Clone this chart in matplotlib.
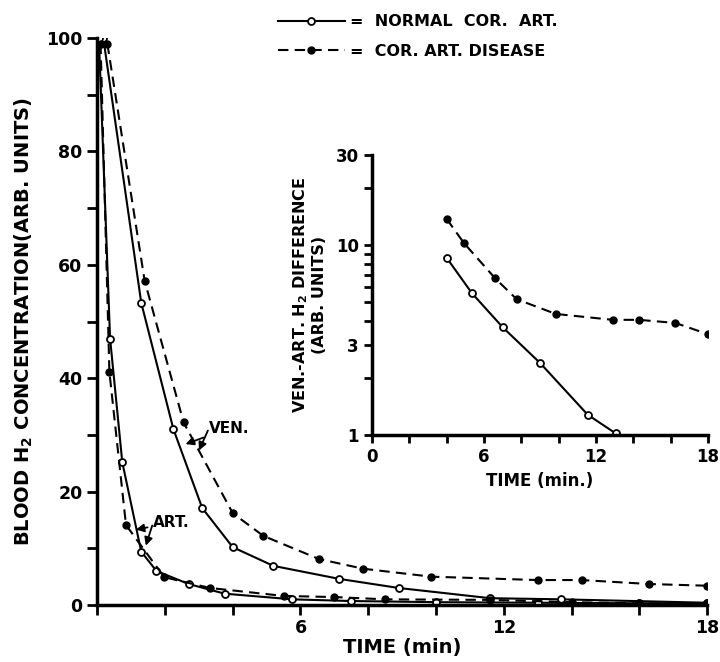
import matplotlib
matplotlib.use("Agg")
import matplotlib.pyplot as plt
from matplotlib.ticker import FixedLocator, NullFormatter, FixedFormatter

# --- data ---
# venous, normal coronary arteries
ven_norm_t = [0.18, 1.3, 2.25, 3.1, 4.0, 5.2, 7.15, 8.9, 11.6, 13.7, 18.0]
ven_norm_c = [100, 53.3, 31.0, 17.1, 10.2, 6.9, 4.6, 3.0, 1.2, 1.0, 0.4]
# venous, coronary artery disease
ven_dis_t = [0.3, 1.4, 2.55, 4.0, 4.9, 6.55, 7.85, 9.85, 13.0, 14.3, 16.3, 18.0]
ven_dis_c = [99, 57.2, 32.2, 16.2, 12.2, 8.1, 6.4, 5.0, 4.4, 4.4, 3.7, 3.4]
# arterial, normal
art_norm_t = [0.05, 0.38, 0.74, 1.3, 1.75, 2.7, 3.76, 5.75, 7.5, 10.0, 13.0, 16.0, 18.0]
art_norm_c = [100, 47.0, 25.2, 9.4, 6.0, 3.7, 2.0, 1.0, 0.7, 0.5, 0.4, 0.3, 0.3]
# arterial, disease
art_dis_t = [0.1, 0.36, 0.85, 1.98, 3.33, 5.5, 7.0, 8.5, 11.6, 14.0, 16.0, 18.0]
art_dis_c = [99, 41.1, 14.1, 4.9, 3.0, 1.6, 1.4, 1.0, 0.9, 0.5, 0.3, 0.2]

# inset: ven.-art. difference
diff_norm_t = [4.0, 5.35, 7.0, 9.0, 11.55, 13.05]
diff_norm_v = [8.6, 5.6, 3.7, 2.4, 1.28, 1.02]
diff_dis_t = [4.0, 4.92, 6.6, 7.75, 9.85, 12.9, 14.3, 16.25, 18.0]
diff_dis_v = [13.8, 10.3, 6.7, 5.2, 4.35, 4.05, 4.05, 3.9, 3.4]

plt.rcParams['font.family'] = 'DejaVu Sans'
plt.rcParams['font.weight'] = 'bold'

fig = plt.figure(figsize=(7.2, 6.62), dpi=100)
ax = fig.add_axes([0.135, 0.0861, 0.847, 0.8565])

solid = dict(color='black', linestyle='-', linewidth=1.5, marker='o',
             markersize=5, markerfacecolor='white', markeredgewidth=1.3)
dashed = dict(color='black', linestyle=(0, (5, 3)), linewidth=1.5, marker='o',
              markersize=5, markerfacecolor='black')

l1, = ax.plot(ven_norm_t, ven_norm_c, **solid)
l2, = ax.plot(ven_dis_t, ven_dis_c, **dashed)
ax.plot(art_norm_t, art_norm_c, **solid)
ax.plot(art_dis_t, art_dis_c, **dashed)

ax.set_xlim(0, 18)
ax.set_ylim(0, 100)
for s in ['top', 'right']:
    ax.spines[s].set_visible(False)
for s in ['left', 'bottom']:
    ax.spines[s].set_linewidth(2.5)
ax.set_xticks([6, 12, 18])
ax.set_xticks(range(0, 19, 2), minor=True)
ax.set_yticks(range(0, 101, 20))
ax.set_yticks(range(0, 101, 10), minor=True)
ax.tick_params(which='both', direction='out', width=2, length=7, labelsize=12.5)
ax.tick_params(axis='x', pad=3)
ax.set_xlabel('TIME (min)', fontsize=14, fontweight='bold', labelpad=1)
ax.set_ylabel('BLOOD H$_\\mathbf{2}$ CONCENTRATION(ARB. UNITS)', fontsize=14,
              fontweight='bold', labelpad=8)

arr = dict(arrowstyle='-|>', color='black', lw=1.3, mutation_scale=12)
ax.annotate('VEN.', xy=(2.53, 28.2), xytext=(3.3, 31.2), fontsize=11,
            fontweight='bold', va='center', arrowprops=arr)
ax.annotate('', xy=(2.97, 26.8), xytext=(3.3, 31.2), arrowprops=arr)
ax.annotate('ART.', xy=(1.06, 13.2), xytext=(1.65, 14.5), fontsize=11,
            fontweight='bold', va='center', arrowprops=arr)
ax.annotate('', xy=(1.41, 10.0), xytext=(1.65, 14.5), arrowprops=arr)

fig.legend([l1, l2], ['=  NORMAL  COR.  ART.', '=  COR. ART. DISEASE'],
           loc='upper left', bbox_to_anchor=(0.366, 1.0), frameon=False,
           handlelength=4.2, labelspacing=0.9, fontsize=11.5, handletextpad=0.3)

# inset
ins = fig.add_axes([0.5167, 0.3429, 0.4667, 0.423])
ins.plot(diff_norm_t, diff_norm_v, **solid)
ins.plot(diff_dis_t, diff_dis_v, **dashed)
ins.set_yscale('log')
ins.set_xlim(0, 18)
ins.set_ylim(1, 30)
for s in ['top', 'right']:
    ins.spines[s].set_visible(False)
for s in ['left', 'bottom']:
    ins.spines[s].set_linewidth(2.5)
ins.yaxis.set_major_locator(FixedLocator([1, 3, 10, 30]))
ins.yaxis.set_major_formatter(FixedFormatter(['1', '3', '10', '30']))
ins.yaxis.set_minor_locator(FixedLocator([2, 4, 5, 6, 7, 8, 9, 20]))
ins.yaxis.set_minor_formatter(NullFormatter())
ins.set_xticks([0, 6, 12, 18])
ins.set_xticks(range(0, 19, 2), minor=True)
ins.tick_params(which='both', direction='out', width=2, length=6, labelsize=12)
ins.set_xlabel('TIME (min.)', fontsize=12, fontweight='bold')
ins.set_ylabel('VEN.-ART. H$_\\mathbf{2}$ DIFFERENCE\n(ARB. UNITS)', fontsize=11.5,
               fontweight='bold', labelpad=6)

fig.savefig('out.png', dpi=100)
